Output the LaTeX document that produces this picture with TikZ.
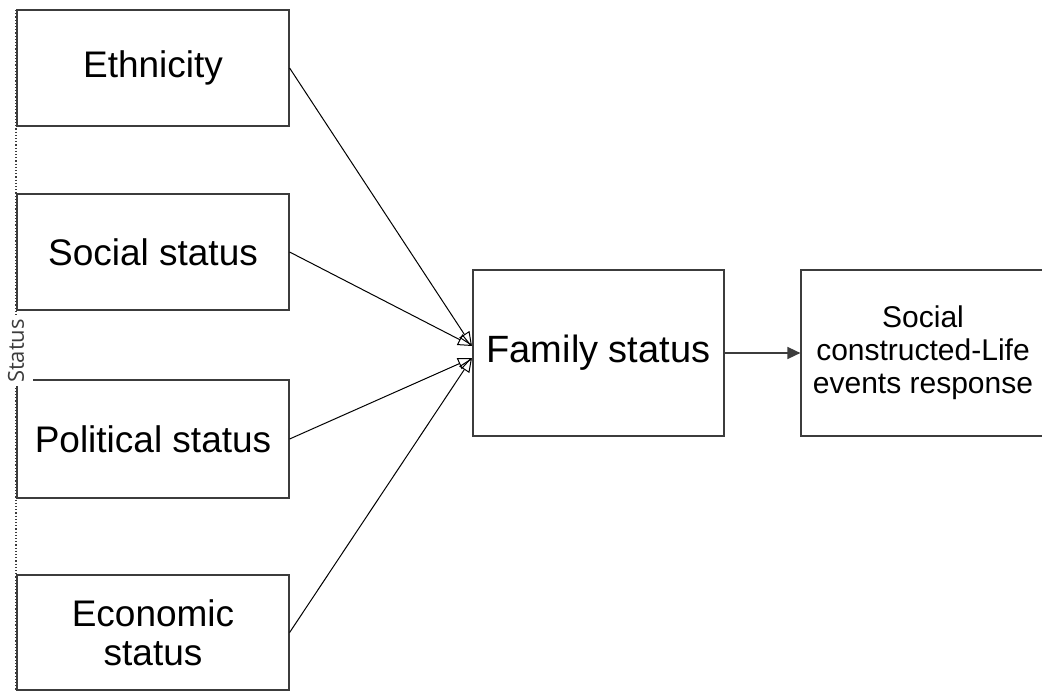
\documentclass[tikz,border=0pt]{standalone}
\usepackage{fontspec}
\setmainfont{Liberation Sans}
\newfontfamily\labelfont{Open Sans}
\usetikzlibrary{arrows.meta}
\definecolor{boxgray}{RGB}{60,60,60}
\begin{document}
\begin{tikzpicture}[x=1pt,y=-1pt,
  factor/.style={draw=boxgray, line width=1.2pt, minimum width=272pt,
    inner sep=0pt, align=center, font=\fontsize{37}{39}\selectfont},
  bigbox/.style={draw=boxgray, line width=1.2pt, minimum height=166pt,
    inner sep=0pt, align=center},
  conn/.style={draw=black, line width=1pt,
    -{Triangle[open, length=14pt, width=12pt]}},
  flow/.style={draw=boxgray, line width=1.6pt,
    -{Triangle[length=13pt, width=12pt]}},
  sidelabel/.style={rotate=90, fill=white, inner xsep=3pt, inner ysep=0pt,
    minimum height=34pt, font=\labelfont\fontsize{22}{22}\selectfont, text=boxgray}
]
\useasboundingbox (0,0) rectangle (1042,691);

% dotted rail along the left side of the factor boxes
\coordinate (railtop) at (16,10);
\coordinate (railbot) at (16,691);
\draw[boxgray, dotted, line width=1.2pt] (railtop) -- (railbot);

% factor boxes
\node[factor, minimum height=116pt] (eth) at (153,68) {Ethnicity};
\node[factor, minimum height=116pt] (soc) at (153,252) {Social status};
\node[factor, minimum height=118pt] (pol) at (153,439) {Political status};
\node[factor, minimum height=115pt] (eco) at (153,632.5) {Economic\\status};

% central and outcome boxes
\node[bigbox, minimum width=251pt, font=\fontsize{38}{40}\selectfont] (fam) at (598.5,353) {Family status};
\node[bigbox, minimum width=244pt, font=\fontsize{30}{33}\selectfont] (resp) at (923,353)
  {Social\\constructed-Life\\events response};

% entry points on the left side of the family box
\coordinate (inA) at (472,346);
\coordinate (inB) at (472,358);

\draw[conn] (eth.east) -- (inA);
\draw[conn] (soc.east) -- (inA);
\draw[conn] (pol.east) -- (inB);
\draw[conn] (eco.east) -- (inB);

\draw[flow] (fam.east) -- (resp.west);

% rotated label on the rail
\node[sidelabel] (lbl) at (16,351) {Status};
\end{tikzpicture}
\end{document}
